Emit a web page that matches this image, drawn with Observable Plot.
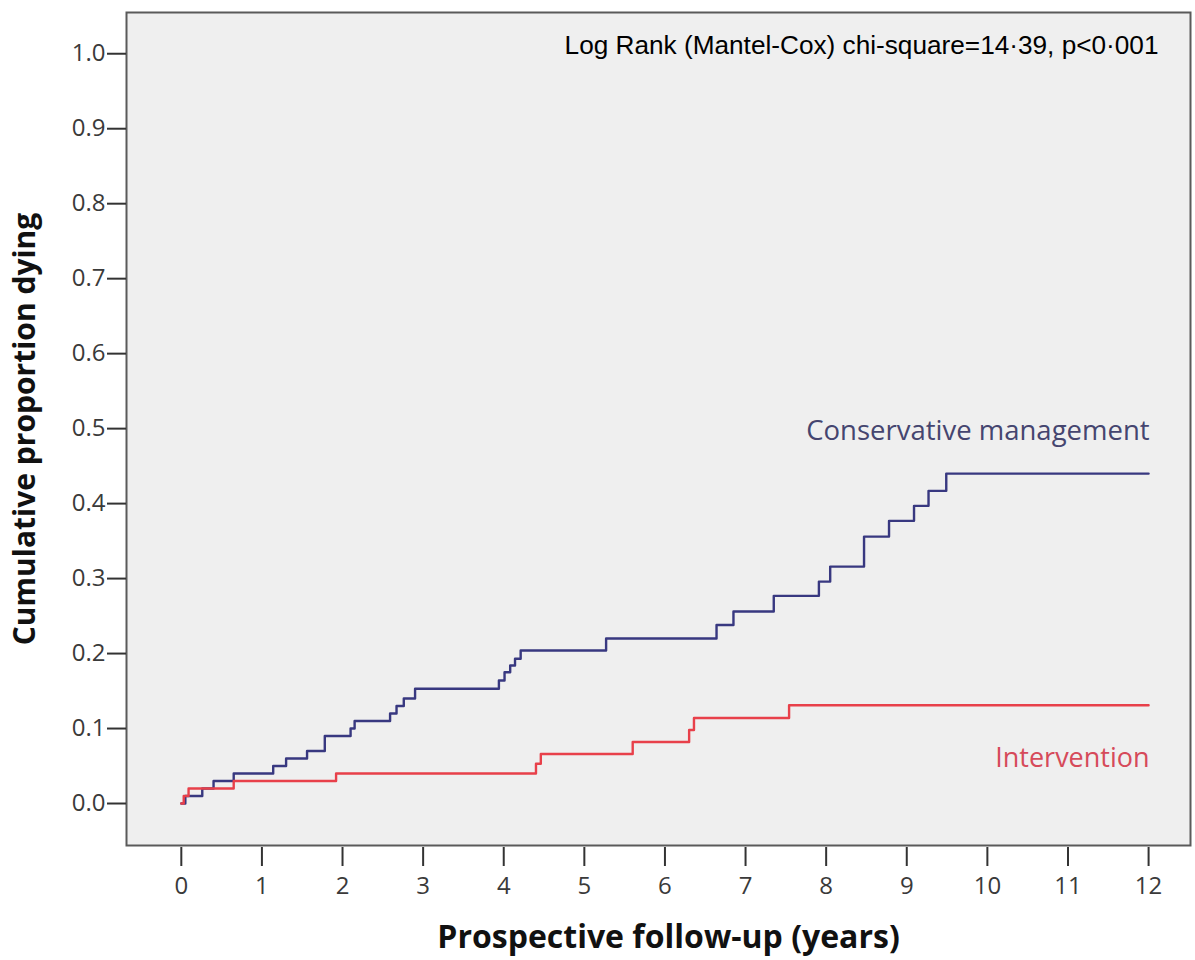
<!DOCTYPE html>
<html>
<head>
<meta charset="utf-8">
<script src="https://cdn.jsdelivr.net/npm/d3@7"></script>
<script src="https://cdn.jsdelivr.net/npm/@observablehq/plot@0.6"></script>
<style>
  html, body { margin: 0; padding: 0; background: #ffffff; }
  #chart svg { display: block; }
</style>
</head>
<body>
<div id="chart"></div>
<script>
// Kaplan–Meier style cumulative proportion dying
const conservativeTimes  = [0, 0.05, 0.26, 0.40, 0.65, 1.14, 1.30, 1.56, 1.78, 2.10, 2.15, 2.59, 2.67, 2.76, 2.90, 3.94, 4.01, 4.08, 4.14, 4.21, 5.27, 6.64, 6.85, 7.35, 7.91, 8.05, 8.47, 8.78, 9.09, 9.27, 9.49, 12.0];
const conservativeValues = [0, 0.01, 0.02, 0.03, 0.04, 0.05, 0.06, 0.07, 0.09, 0.10, 0.11, 0.12, 0.13, 0.14, 0.153, 0.164, 0.175, 0.184, 0.193, 0.204, 0.22, 0.238, 0.256, 0.277, 0.296, 0.316, 0.356, 0.377, 0.397, 0.417, 0.44, 0.44];

const interventionTimes  = [0, 0.03, 0.09, 0.65, 1.92, 4.40, 4.46, 5.60, 6.30, 6.36, 7.54, 12.0];
const interventionValues = [0, 0.01, 0.02, 0.03, 0.04, 0.053, 0.066, 0.082, 0.098, 0.114, 0.131, 0.131];

const xTicks = [0, 1, 2, 3, 4, 5, 6, 7, 8, 9, 10, 11, 12];
const yTicks = [0, 0.1, 0.2, 0.3, 0.4, 0.5, 0.6, 0.7, 0.8, 0.9, 1.0];
const xTickLabels = xTicks.map(d => String(d));
const yTickLabels = yTicks.map(d => d.toFixed(1));

const seriesNames = ["Conservative management", "Intervention"];
const statText = "Log Rank (Mantel-Cox) chi-square=14·39, p<0·001";
const xTitle = "Prospective follow-up (years)";
const yTitle = "Cumulative proportion dying";

const conservative = conservativeTimes.map((t, i) => ({time: t, value: conservativeValues[i]}));
const intervention = interventionTimes.map((t, i) => ({time: t, value: interventionValues[i]}));

const blue = "#383880";
const red = "#e8404a";
const font = "'Open Sans', sans-serif";

const chart = Plot.plot({
  width: 1195,
  height: 960,
  marginLeft: 126,
  marginRight: 5,
  marginTop: 12,
  marginBottom: 115,
  style: {fontFamily: font, background: "#ffffff", overflow: "visible"},
  x: {domain: [-0.68, 12.52], axis: null},
  y: {domain: [-0.056, 1.055], axis: null},
  marks: [
    Plot.frame({fill: "#efefef", stroke: "#5a5a5a", strokeWidth: 2}),
    Plot.line(conservative, {x: "time", y: "value", curve: "step-after", stroke: blue, strokeWidth: 2.4}),
    Plot.line(intervention, {x: "time", y: "value", curve: "step-after", stroke: red, strokeWidth: 2.4}),
    Plot.axisX(xTicks, {anchor: "bottom", tickSize: 19, dy: 2, stroke: "#333", strokeWidth: 2, label: null, tickFormat: () => ""}),
    Plot.axisY(yTicks, {anchor: "left", tickSize: 19, stroke: "#333", strokeWidth: 2, label: null, tickFormat: () => ""}),
    Plot.text(xTicks, {x: d => d, text: (d, i) => xTickLabels[i], frameAnchor: "bottom", textAnchor: "middle", lineAnchor: "top", dy: 31, fontSize: 24, fill: "#3a3a3a"}),
    Plot.text(yTicks, {y: d => d, text: (d, i) => yTickLabels[i], frameAnchor: "left", textAnchor: "end", lineAnchor: "middle", dx: -21, fontSize: 24, fill: "#3a3a3a"}),
    Plot.text([conservative[conservative.length - 1]], {x: "time", y: "value", text: () => seriesNames[0], textAnchor: "end", dx: 1, dy: -42, fontSize: 27.5, fill: "#45456f"}),
    Plot.text([intervention[intervention.length - 1]], {x: "time", y: "value", text: () => seriesNames[1], textAnchor: "end", dx: 1, dy: 53, fontSize: 27, fill: "#d64a5a"}),
    Plot.text([statText], {frameAnchor: "top-right", textAnchor: "end", lineAnchor: "top", dx: -32, dy: 23, fontSize: 26.2, fontFamily: "'Liberation Sans', Arial, sans-serif", fill: "#000"}),
    Plot.text([xTitle], {frameAnchor: "bottom", textAnchor: "middle", lineAnchor: "top", dx: 10, dy: 80, fontSize: 32, fontWeight: "bold", fill: "#111"}),
    Plot.text([yTitle], {frameAnchor: "left", textAnchor: "middle", rotate: -90, dx: -101, fontSize: 30, fontWeight: "bold", fill: "#111"})
  ]
});

document.getElementById("chart").appendChild(chart);
</script>
</body>
</html>
